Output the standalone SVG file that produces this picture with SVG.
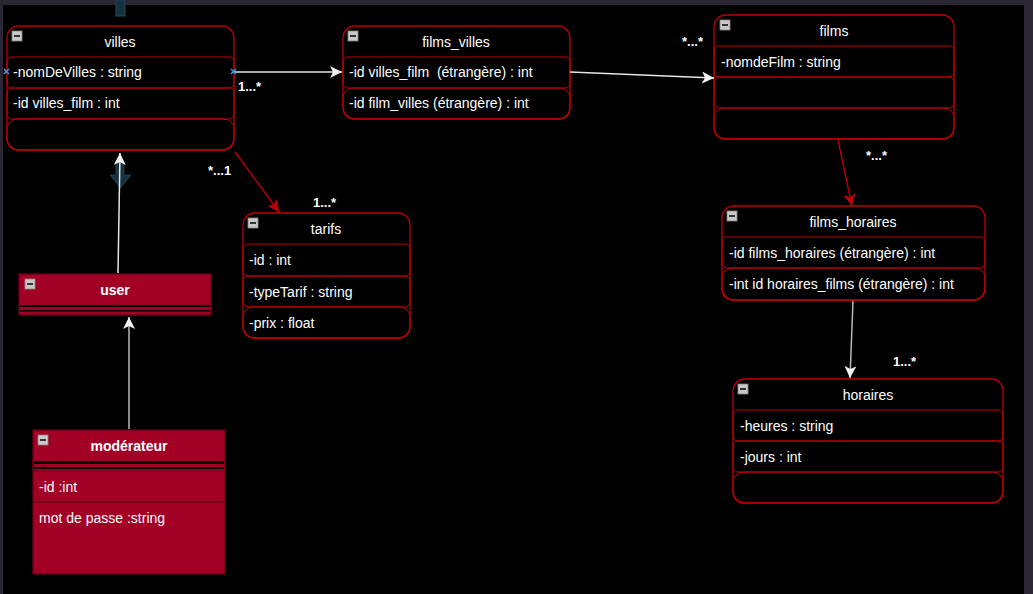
<svg xmlns="http://www.w3.org/2000/svg" width="1033" height="594" viewBox="0 0 1033 594">
<style>
.box{fill:#000;stroke:#c00000;stroke-width:1.3}
.row{fill:none;stroke:#c00000;stroke-width:1}
.fbox{fill:#a30026;stroke:#6a0016;stroke-width:1.3}
.fsep{fill:#000}
.t{font-family:"Liberation Sans",Arial,sans-serif;font-size:14px;fill:#fff}
.c{text-anchor:middle}
.b{font-weight:bold}
.lbl{font-family:"Liberation Sans",Arial,sans-serif;font-size:13px;font-weight:bold;fill:#fff}
.wl{stroke:#e6e6e6;stroke-width:1.5;fill:none}
.gl{stroke:#b8b8b8;stroke-width:1.5;fill:none}
.rl{stroke:#c00000;stroke-width:1.3;fill:none}
.x{stroke:#3a9bd9;stroke-width:1.5}
</style>
<defs>
<marker id="aw" markerUnits="userSpaceOnUse" markerWidth="14" markerHeight="12" refX="12" refY="6" orient="auto">
<path d="M0,0 L12,6 L0,12 L3,6 z" fill="#f2f2f2"/>
</marker>
<marker id="ar" markerUnits="userSpaceOnUse" markerWidth="14" markerHeight="12" refX="12" refY="6" orient="auto">
<path d="M0,0 L12,6 L0,12 L3,6 z" fill="#c00000"/>
</marker>
<g id="ic">
<rect x="0" y="0" width="10" height="10" fill="#c8c8c8" stroke="#888" stroke-width="0.8"/>
<rect x="2" y="4" width="6" height="2" fill="#333"/>
</g>
</defs>
<rect x="0" y="0" width="1033" height="594" fill="#2b2634"/>
<rect x="3" y="5" width="1021" height="589" fill="#000"/>
<rect x="116" y="0" width="9" height="16" fill="#17323f" stroke="#24495a" stroke-width="1"/>

<g id="villes">
<rect class="box" x="7" y="26" width="227" height="124" rx="12"/>
<rect class="row" x="7" y="57" width="227" height="31" rx="5"/>
<rect class="row" x="7" y="88" width="227" height="31" rx="5"/>
<rect class="row" x="7" y="119" width="227" height="31" rx="10"/>
<use href="#ic" x="12" y="31"/>
<text class="t c" x="120" y="47">villes</text>
<text class="t" x="13" y="77">-nomDeVilles : string</text>
<text class="t" x="13" y="108">-id villes_film : int</text>
</g>

<g id="films_villes">
<rect class="box" x="343" y="26" width="227" height="93" rx="12"/>
<rect class="row" x="343" y="57" width="227" height="31" rx="5"/>
<rect class="row" x="343" y="88" width="227" height="31" rx="10"/>
<use href="#ic" x="348" y="31"/>
<text class="t c" x="456" y="47">films_villes</text>
<text class="t" x="349" y="77" xml:space="preserve">-id villes_film  (étrangère) : int</text>
<text class="t" x="349" y="108">-id film_villes (étrangère) : int</text>
</g>

<g id="films">
<rect class="box" x="714" y="15" width="240" height="124" rx="12"/>
<rect class="row" x="714" y="46" width="240" height="31" rx="5"/>
<rect class="row" x="714" y="77" width="240" height="31" rx="5"/>
<rect class="row" x="714" y="108" width="240" height="31" rx="10"/>
<use href="#ic" x="720" y="20"/>
<text class="t c" x="834" y="36">films</text>
<text class="t" x="721" y="67">-nomdeFilm : string</text>
</g>

<g id="films_horaires">
<rect class="box" x="722" y="206" width="263" height="94" rx="12"/>
<rect class="row" x="722" y="237" width="263" height="31" rx="5"/>
<rect class="row" x="722" y="268" width="263" height="32" rx="10"/>
<use href="#ic" x="727" y="211"/>
<text class="t c" x="853" y="227">films_horaires</text>
<text class="t" x="729" y="258">-id films_horaires (étrangère) : int</text>
<text class="t" x="729" y="289">-int id horaires_films (étrangère) : int</text>
</g>

<g id="horaires">
<rect class="box" x="733" y="379" width="270" height="124" rx="12"/>
<rect class="row" x="733" y="410" width="270" height="31" rx="5"/>
<rect class="row" x="733" y="441" width="270" height="31" rx="5"/>
<rect class="row" x="733" y="472" width="270" height="31" rx="10"/>
<use href="#ic" x="738" y="384"/>
<text class="t c" x="868" y="400">horaires</text>
<text class="t" x="740" y="431">-heures : string</text>
<text class="t" x="740" y="462">-jours : int</text>
</g>

<g id="tarifs">
<rect class="box" x="243" y="213" width="167" height="125" rx="12"/>
<rect class="row" x="243" y="244" width="167" height="32" rx="5"/>
<rect class="row" x="243" y="276" width="167" height="31" rx="5"/>
<rect class="row" x="243" y="307" width="167" height="31" rx="10"/>
<use href="#ic" x="248" y="218"/>
<text class="t c" x="326" y="234">tarifs</text>
<text class="t" x="249" y="265">-id : int</text>
<text class="t" x="249" y="297">-typeTarif : string</text>
<text class="t" x="249" y="328">-prix : float</text>
</g>

<g id="user">
<rect class="fbox" x="19" y="274" width="192" height="41"/>
<rect class="fsep" x="20" y="305" width="190" height="2"/>
<rect class="fsep" x="20" y="310" width="190" height="1.5"/>
<use href="#ic" x="25" y="279"/>
<text class="t c b" x="115" y="295">user</text>
</g>

<g id="moderateur">
<rect class="fbox" x="33" y="430" width="192" height="144"/>
<rect class="fsep" x="34" y="461" width="190" height="3"/>
<rect class="fsep" x="34" y="467" width="190" height="2"/>
<line x1="34" y1="502" x2="224" y2="502" stroke="#6a0016" stroke-width="1.3"/>
<line x1="34" y1="471" x2="224" y2="471" stroke="#6a0016" stroke-width="1"/>
<use href="#ic" x="38" y="435"/>
<text class="t c b" x="129" y="451">modérateur</text>
<text class="t" x="39" y="492">-id :int</text>
<text class="t" x="39" y="523">mot de passe :string</text>
</g>

<g id="connectors">
<path d="M116,163 h8 v12 h7 l-10.5,13 l-10.5,-13 h6 z" fill="#17323f" stroke="#24495a" stroke-width="0.8"/>
<line class="wl" x1="234" y1="72" x2="342" y2="72" marker-end="url(#aw)"/>
<line class="wl" x1="570" y1="72" x2="714" y2="78" marker-end="url(#aw)"/>
<line class="rl" x1="235" y1="152" x2="279" y2="212" marker-end="url(#ar)"/>
<line class="rl" x1="838" y1="140" x2="852" y2="206" marker-end="url(#ar)"/>
<line class="gl" x1="853" y1="301" x2="850" y2="378" marker-end="url(#aw)"/>
<line class="wl" x1="118" y1="273" x2="120" y2="153" marker-end="url(#aw)"/>
<line class="gl" x1="129" y1="429" x2="129" y2="317" marker-end="url(#aw)"/>
<path class="x" d="M4,69 l5,5 M9,69 l-5,5"/>
<path class="x" d="M231,69 l5,5 M236,69 l-5,5"/>
<text class="lbl" x="238" y="91">1...*</text>
<text class="lbl" x="682" y="46">*...*</text>
<text class="lbl" x="208" y="175">*...1</text>
<text class="lbl" x="313" y="207">1...*</text>
<text class="lbl" x="866" y="160">*...*</text>
<text class="lbl" x="893" y="366">1...*</text>
</g>
</svg>
